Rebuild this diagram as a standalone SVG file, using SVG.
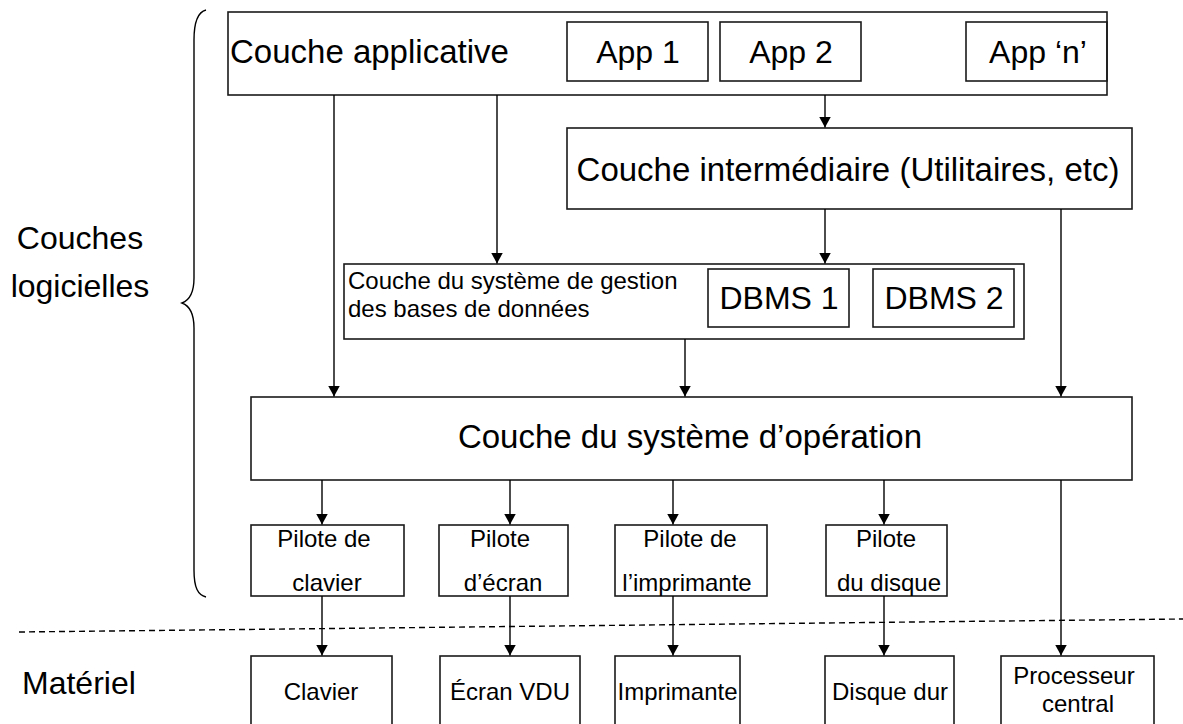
<svg xmlns="http://www.w3.org/2000/svg" width="1183" height="724" viewBox="0 0 1183 724">
<defs>
<style>
text{font-family:"Liberation Sans",Arial,sans-serif;fill:#000}
.box{fill:#fff;stroke:#1a1a1a;stroke-width:1.6}
.in{fill:none;stroke:#1a1a1a;stroke-width:1.6}
.big{font-size:33px}
.mid{font-size:32px}
.sm{font-size:24px}
.c{text-anchor:middle}
.conn line{stroke:#000;stroke-width:1.4;marker-end:url(#arr)}
</style>
<marker id="arr" markerUnits="userSpaceOnUse" markerWidth="12" markerHeight="12" refX="11" refY="6" orient="auto">
<path d="M0,0 L11,6 L0,12 z" fill="#000"/>
</marker>
</defs>
<rect width="1183" height="724" fill="#fff"/>

<g id="brace">
<path d="M206 10 C198 12 194 22 194 40 L194 278 C194 292 190 300 182 303 C190 306 194 314 194 328 L194 570 C194 588 198 595 206 597" fill="none" stroke="#000" stroke-width="1.4"/>
</g>
<g id="label-logiciel">
<text class="mid c" x="80" y="249">Couches</text>
<text class="mid c" x="80" y="297">logicielles</text>
</g>
<g id="label-materiel">
<text class="mid" x="22" y="694">Matériel</text>
</g>
<g id="separator">
<line x1="19" y1="632" x2="1183" y2="619" stroke="#000" stroke-width="1.4" stroke-dasharray="6,4"/>
</g>

<g id="app-layer">
<rect class="box" x="228" y="12" width="879" height="83"/>
<text class="big" x="230" y="63">Couche applicative</text>
</g>
<g id="app1">
<rect class="in" x="567" y="22" width="141" height="59"/>
<text class="mid c" x="638" y="63">App 1</text>
</g>
<g id="app2">
<rect class="in" x="720" y="22" width="141" height="59"/>
<text class="mid c" x="791" y="63">App 2</text>
</g>
<g id="appn">
<rect class="in" x="966" y="22" width="141" height="59"/>
<text class="mid c" x="1038" y="63">App ‘n’</text>
</g>

<g id="intermediate">
<rect class="box" x="567" y="128" width="565" height="81"/>
<text class="big c" x="848" y="181">Couche intermédiaire (Utilitaires, etc)</text>
</g>

<g id="dbms-layer">
<rect class="box" x="344" y="264" width="680" height="75"/>
<text class="sm" x="348" y="289">Couche du système de gestion</text>
<text class="sm" x="348" y="317">des bases de données</text>
</g>
<g id="dbms1">
<rect class="in" x="708" y="269" width="141" height="58"/>
<text class="mid c" x="779" y="309">DBMS 1</text>
</g>
<g id="dbms2">
<rect class="in" x="873" y="269" width="141" height="58"/>
<text class="mid c" x="944" y="309">DBMS 2</text>
</g>

<g id="os-layer">
<rect class="box" x="251" y="397" width="881" height="83"/>
<text class="big c" x="690" y="448">Couche du système d’opération</text>
</g>

<g id="pilote-clavier">
<rect class="box" x="251" y="525" width="153" height="71"/>
<text class="sm c" x="324" y="547">Pilote de</text>
<text class="sm c" x="327" y="591">clavier</text>
</g>
<g id="pilote-ecran">
<rect class="box" x="439" y="525" width="129" height="71"/>
<text class="sm c" x="500" y="547">Pilote</text>
<text class="sm c" x="503" y="591">d’écran</text>
</g>
<g id="pilote-imprimante">
<rect class="box" x="615" y="525" width="152" height="71"/>
<text class="sm c" x="690" y="547">Pilote de</text>
<text class="sm c" x="687" y="591">l’imprimante</text>
</g>
<g id="pilote-disque">
<rect class="box" x="826" y="525" width="121" height="71"/>
<text class="sm c" x="886" y="547">Pilote</text>
<text class="sm c" x="889" y="591">du disque</text>
</g>

<g id="clavier">
<rect class="box" x="251" y="656" width="141" height="80"/>
<text class="sm c" x="321" y="700">Clavier</text>
</g>
<g id="ecran">
<rect class="box" x="440" y="656" width="140" height="80"/>
<text class="sm c" x="510" y="700">Écran VDU</text>
</g>
<g id="imprimante">
<rect class="box" x="615" y="656" width="125" height="80"/>
<text class="sm c" x="677.5" y="700">Imprimante</text>
</g>
<g id="disque">
<rect class="box" x="825" y="656" width="129" height="80"/>
<text class="sm c" x="890" y="700">Disque dur</text>
</g>
<g id="processeur">
<rect class="box" x="1001" y="656" width="153" height="80"/>
<text class="sm c" x="1074" y="684">Processeur</text>
<text class="sm c" x="1078" y="712">central</text>
</g>

<g id="connectors" class="conn">
<line x1="334" y1="95" x2="334" y2="396.5"/>
<line x1="497" y1="95" x2="497" y2="263.5"/>
<line x1="825" y1="95" x2="825" y2="127.5"/>
<line x1="825" y1="209" x2="825" y2="263.5"/>
<line x1="1061" y1="209" x2="1061" y2="396.5"/>
<line x1="685" y1="339" x2="685" y2="396.5"/>
<line x1="322" y1="480" x2="322" y2="524.5"/>
<line x1="510" y1="480" x2="510" y2="524.5"/>
<line x1="673" y1="480" x2="673" y2="524.5"/>
<line x1="884" y1="480" x2="884" y2="524.5"/>
<line x1="1061" y1="480" x2="1061" y2="655.5"/>
<line x1="322" y1="596" x2="322" y2="655.5"/>
<line x1="510" y1="596" x2="510" y2="655.5"/>
<line x1="673" y1="596" x2="673" y2="655.5"/>
<line x1="884" y1="596" x2="884" y2="655.5"/>
</g>
</svg>
